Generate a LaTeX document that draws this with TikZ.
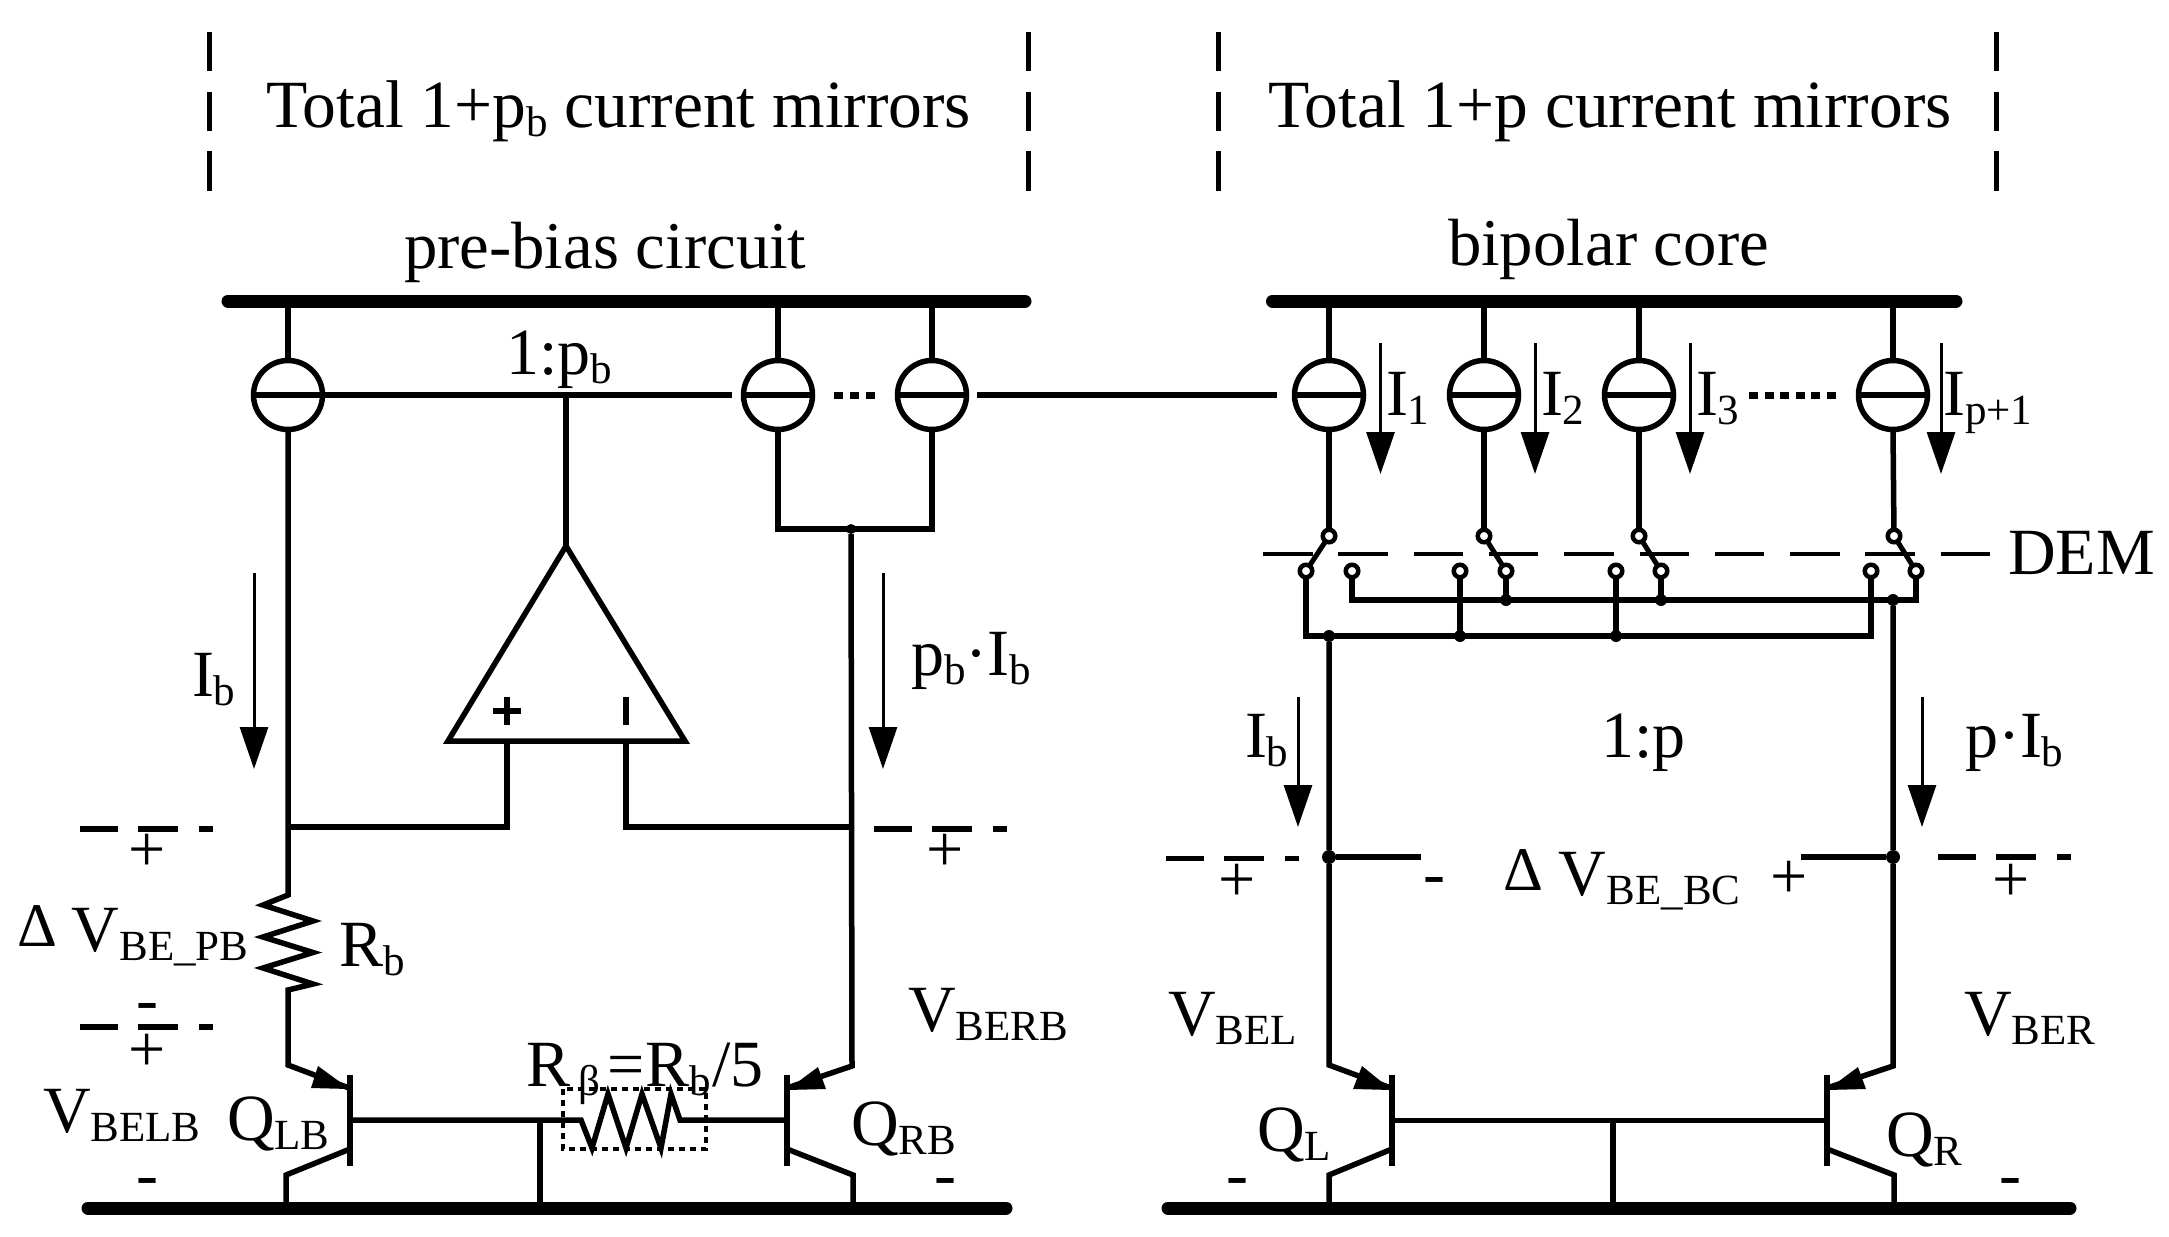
\documentclass[tikz,border=0pt]{standalone}
\usepackage{fontspec}
\setmainfont{Liberation Serif}
\usetikzlibrary{arrows.meta}
\newcommand{\sbs}[1]{\raisebox{-9pt}{\fontsize{43}{43}\selectfont #1}}
\newcommand{\dlt}{\raisebox{5pt}{\fontsize{62}{62}\selectfont Δ}}
\tikzset{
  wire/.style={line width=5.5pt,line join=miter,black},
  rail/.style={line width=13pt,line cap=round,black},
  flow/.style={line width=3pt,black,-{Triangle[length=42pt,width=28pt]}},
  fence/.style={line width=5pt,black,dash pattern=on 39pt off 21pt on 39pt off 20pt on 40pt off 100pt},
  vrow/.style={line width=5.5pt,black,dash pattern=on 38pt off 20pt on 40pt off 21pt on 14pt off 100pt},
  lab/.style={inner sep=0pt,outer sep=0pt,anchor=base west,font=\fontsize{66}{70}\selectfont},
  ttl/.style={lab,font=\fontsize{67.5}{70}\selectfont},
  sign/.style={inner sep=0pt,outer sep=0pt,anchor=center,font=\fontsize{66}{70}\selectfont},
  src/.style={circle,draw=black,line width=5.5pt,minimum size=69pt,inner sep=0pt,outer sep=0pt},
  contact/.style={circle,draw=black,line width=4.5pt,minimum size=12.5pt,inner sep=0pt,outer sep=1pt},
  jdot/.style={circle,fill=black,minimum size=12pt,inner sep=0pt,outer sep=0pt},
  head/.style={fill=black,draw=none}
}
\begin{document}
\begin{tikzpicture}[x=1pt,y=-1pt]
\useasboundingbox (0,0) rectangle (2169,1237);

% ---- header
\draw[fence] (209,32) -- (209,191);
\draw[fence] (1028,32) -- (1028,191);
\draw[fence] (1218,32) -- (1218,191);
\draw[fence] (1996,32) -- (1996,191);
\node[ttl] (t1) at (266,127) {Total 1+p\sbs{b} current mirrors};
\node[ttl] (t2) at (1268,127) {Total 1+p current mirrors};
\node[lab,font=\fontsize{66.8}{70}\selectfont] (t3) at (404,268) {pre-bias circuit};
\node[lab,font=\fontsize{66.8}{70}\selectfont] (t4) at (1448,265) {bipolar core};

% ---- rails
\coordinate (topL) at (228,301);
\coordinate (topLe) at (1025,301);
\coordinate (topR) at (1272.5,301);
\coordinate (topRe) at (1956,301);
\coordinate (botL) at (88,1208);
\coordinate (botLe) at (1006,1208);
\coordinate (botR) at (1168,1208);
\coordinate (botRe) at (2070,1208);
\draw[rail] (topL) -- (topLe);
\draw[rail] (topR) -- (topRe);
\draw[rail] (botL) -- (botLe);
\draw[rail] (botR) -- (botRe);

% ---- current sources
\node[src] (s1) at (288,395) {};
\node[src] (s2) at (778,395) {};
\node[src] (s3) at (932,395) {};
\node[src] (c1) at (1329,395) {};
\node[src] (c2) at (1484,395) {};
\node[src] (c3) at (1639,395) {};
\node[src] (c4) at (1893,395) {};
\foreach \n in {s1,s2,s3,c1,c2,c3,c4}{
  \draw[wire] (\n.west) -- (\n.east);
  \draw[wire] (\n.north) -- (\n.north |- topL);
}
\coordinate (gateA) at (732,395);
\coordinate (gateB) at (977,395);
\coordinate (gateC) at (1277,395);
\coordinate (stem) at (566,395);
\draw[wire] (s1.east) -- (gateA);
\draw[wire] (gateB) -- (gateC);
\draw[line width=7pt,black,dash pattern=on 9pt off 7pt] (834,395) -- (876,395);
\draw[line width=7pt,black,dash pattern=on 9pt off 6.5pt] (1749,395) -- (1838,395);
\node[lab] (r1) at (506,374) {1:p\sbs{b}};

% ---- op amp
\coordinate (oa) at (566,546);
\coordinate (ol) at (448,741);
\coordinate (or) at (685,741);
\coordinate (ip) at (507,741);
\coordinate (im) at (626,741);
\draw[wire,line join=miter] (oa) -- (or) -- (ol) -- cycle;
\draw[wire] (stem) -- (oa);
\draw[line width=5.5pt,black] (493,711) -- (521,711) (507,697) -- (507,725);
\draw[line width=5.5pt,black] (626,697) -- (626,725);

% ---- pre-bias branches
\coordinate (nl) at (288,827);
\coordinate (nr) at (851,827);
\node[jdot,minimum size=10pt] (jt) at (851,529) {};
\coordinate (ml) at (778,529);
\coordinate (mr) at (932,529);
\draw[wire] (s2.south) -- (ml) -- (mr) -- (s3.south);
\draw[wire] (ip) -- (ip |- nl) -- (nl);
\draw[wire] (im) -- (im |- nr) -- (nr);
\coordinate (qlbE) at (288,1065);
\coordinate (qrbE) at (852,1066);
\draw[wire] (s1.south) -- (288,895) -- (263,905) -- (313,921) -- (263,937) -- (313,952.5) -- (263,968) -- (313,984) -- (288,990) -- (qlbE) -- (349,1088);
\draw[wire] (jt) -- (qrbE) -- (787,1088);

% pre-bias transistors
\coordinate (qlbT) at (350,1075);
\coordinate (qlbB) at (350,1166);
\coordinate (qrbT) at (787,1075);
\coordinate (qrbB) at (787,1166);
\draw[wire] (qlbT) -- (qlbB);
\draw[wire] (qrbT) -- (qrbB);
\fill[head] (349.5,1089) -- (318,1066) -- (311,1088) -- cycle;
\fill[head] (787,1090) -- (818,1067) -- (826,1089) -- cycle;
\draw[wire] (350,1149) -- (286,1175) -- (286,1208);
\draw[wire] (787,1149) -- (853,1175) -- (853,1208);
\draw[wire] (350,1120) -- (581,1120) -- (592,1148) -- (608,1094) -- (626,1148) -- (642,1094) -- (661,1148) -- (671,1094) -- (680,1120) -- (787,1120);
\coordinate (gnd) at (540,1120);
\draw[wire] (gnd) -- (gnd |- botL);
\draw[line width=4.5pt,black,dash pattern=on 6pt off 5pt] (563,1089) rectangle (706,1149);

% pre-bias current arrows
\draw[flow] (254,573) -- (254,769);
\draw[flow] (883,573) -- (883,769);

% pre-bias dashed marks
\draw[vrow] (80,829) -- (213,829);
\draw[vrow] (874,829) -- (1009,829);
\draw[vrow] (80,1027) -- (213,1027);
\node[sign] (p1) at (147,853) {+};
\node[sign] (p2) at (945,853) {+};
\node[sign] (p3) at (147,1053) {+};
\node[sign] (m1) at (147,1012) {-};
\node[sign] (m2) at (147,1187) {-};
\node[sign] (m3) at (945,1187) {-};

% pre-bias labels
\node[lab] (l1) at (192,696) {I\sbs{b}};
\node[lab] (l2) at (911,675) {p\sbs{b}·I\sbs{b}};
\node[lab] (l3) at (17,951) {\dlt\hspace{15pt}V\sbs{BE\_PB}};
\node[lab] (l4) at (339,966) {R\sbs{b}};
\node[lab] (l5) at (908,1031) {V\sbs{BERB}};
\node[lab] (l6) at (526,1086) {R\hspace{8pt}\sbs{β}\hspace{8pt}=R\sbs{b}\hspace{2pt}/5};
\node[lab] (l7) at (43,1132) {V\sbs{BELB}};
\node[lab] (l8) at (227,1140) {Q\sbs{LB}};
\node[lab] (l9) at (851,1145) {Q\sbs{RB}};

% ---- DEM switches
\draw[line width=4pt,black,dash pattern=on 49.5pt off 25.8pt] (1263,554) -- (1992,554);
\node[lab] (dem) at (2008,574) {DEM};
\node[contact] (t1s) at (1329,536) {};
\node[contact] (t2s) at (1484,536) {};
\node[contact] (t3s) at (1639,536) {};
\node[contact] (t4s) at (1894,536) {};
\node[contact] (a1) at (1306,571) {};
\node[contact] (b1) at (1352,571) {};
\node[contact] (a2) at (1460,571) {};
\node[contact] (b2) at (1506,571) {};
\node[contact] (a3) at (1616,571) {};
\node[contact] (b3) at (1661,571) {};
\node[contact] (a4) at (1871,571) {};
\node[contact] (b4) at (1916,571) {};
\draw[wire] (c1.south) -- (t1s);
\draw[wire] (c2.south) -- (t2s);
\draw[wire] (c3.south) -- (t3s);
\draw[wire] (c4.south) -- (t4s);
\draw[line width=5pt,black] (t1s) -- (a1);
\draw[line width=5pt,black] (t2s) -- (b2);
\draw[line width=5pt,black] (t3s) -- (b3);
\draw[line width=5pt,black] (t4s) -- (b4);
\coordinate (busA) at (1352,600);
\coordinate (busB) at (1306,636);
\draw[wire] (b1) -- (busA) -- (b4 |- busA) -- (b4);
\draw[wire] (a1) -- (busB) -- (a4 |- busB) -- (a4);
\draw[wire] (a2) -- (a2 |- busB);
\draw[wire] (a3) -- (a3 |- busB);
\draw[wire] (b2) -- (b2 |- busA);
\draw[wire] (b3) -- (b3 |- busA);
\node[jdot] (ja2) at (1506,600) {};
\node[jdot] (ja3) at (1661,600) {};
\node[jdot] (ja4) at (1893,600) {};
\node[jdot] (jb1) at (1329,636) {};
\node[jdot] (jb2) at (1460,636) {};
\node[jdot] (jb3) at (1616,636) {};
\node[jdot,minimum size=14pt] (jL) at (1329,857) {};
\node[jdot,minimum size=14pt] (jR) at (1893,857) {};

% ---- bipolar core branches
\coordinate (qlE) at (1329,1065);
\coordinate (qrE) at (1893,1066);
\draw[wire] (jb1) -- (jL) -- (qlE) -- (1391,1088);
\draw[wire] (ja4) -- (jR) -- (qrE) -- (1827,1088);
\coordinate (stubL) at (1421,857);
\coordinate (stubR) at (1801,857);
\draw[wire] (jL) -- (stubL);
\draw[wire] (jR) -- (stubR);
\draw[wire] (1392,1075) -- (1392,1166);
\draw[wire] (1827,1075) -- (1827,1166);
\fill[head] (1391.6,1090) -- (1362,1066) -- (1353,1089) -- cycle;
\fill[head] (1827,1090) -- (1858,1067) -- (1866,1089) -- cycle;
\draw[wire] (1392,1149) -- (1329,1175) -- (1329,1208);
\draw[wire] (1827,1149) -- (1894,1175) -- (1894,1208);
\coordinate (bcL) at (1392,1120.5);
\coordinate (bcR) at (1827,1120.5);
\draw[wire] (bcL) -- (bcR);
\draw[wire] (1613,1120.5) -- (1613,1208);

% bipolar current arrows
\draw[flow] (1380.5,343) -- (1380.5,474);
\draw[flow] (1535,343) -- (1535,474);
\draw[flow] (1690,343) -- (1690,474);
\draw[flow] (1941,343) -- (1941,474);
\draw[flow] (1298,697) -- (1298,827);
\draw[flow] (1922,697) -- (1922,827);

% bipolar dashed marks
\draw[vrow] (1166,858.5) -- (1301,858.5);
\draw[vrow] (1938,857) -- (2073,857);
\node[sign] (p4) at (1237,883) {+};
\node[sign] (p5) at (2011,883) {+};
\node[sign] (p6) at (1789,880) {+};
\node[sign] (m4) at (1434.5,886) {-};
\node[sign] (m5) at (1237,1187) {-};
\node[sign] (m6) at (2010,1187) {-};

% bipolar labels
\node[lab] (i1) at (1386,415) {I\sbs{1}};
\node[lab] (i2) at (1541,415) {I\sbs{2}};
\node[lab] (i3) at (1696,415) {I\sbs{3}};
\node[lab] (i4) at (1943,415) {I\sbs{p+1}};
\node[lab] (k1) at (1245,757) {I\sbs{b}};
\node[lab] (k2) at (1601,757) {1:p};
\node[lab] (k3) at (1965,757) {p·I\sbs{b}};
\node[lab] (k4) at (1503,895) {\dlt\hspace{16pt}V\sbs{BE\_BC}};
\node[lab] (k5) at (1168,1035) {V\sbs{BEL}};
\node[lab] (k6) at (1964,1035) {V\sbs{BER}};
\node[lab] (k7) at (1257,1151) {Q\sbs{L}};
\node[lab] (k8) at (1886,1156) {Q\sbs{R}};
\end{tikzpicture}
\end{document}
